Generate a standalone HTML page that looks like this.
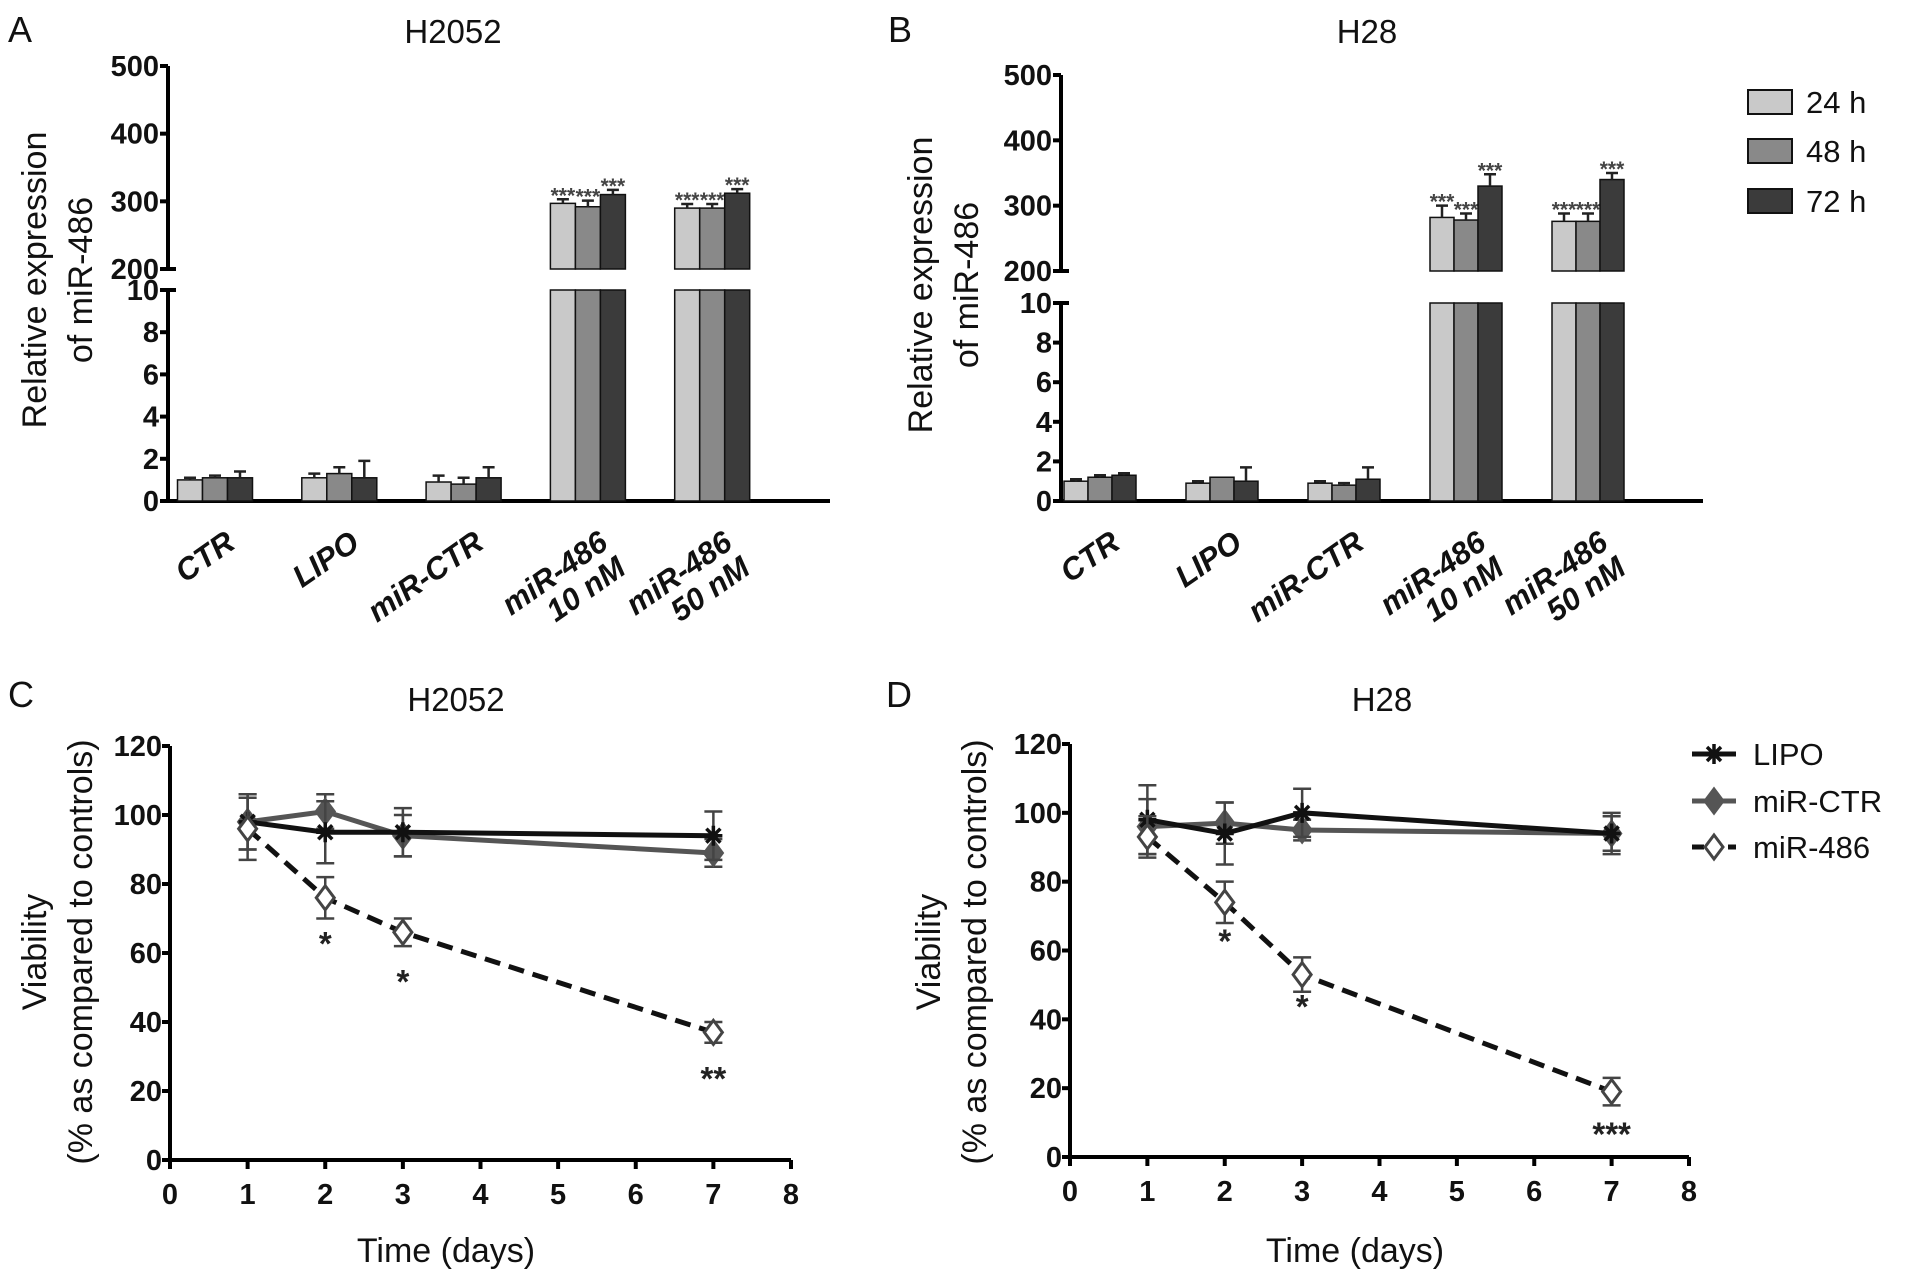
<!DOCTYPE html>
<html><head><meta charset="utf-8"><title>miR-486 expression and viability</title>
<style>
html,body{margin:0;padding:0;background:#fff;}
svg{display:block;font-family:"Liberation Sans",Arial,sans-serif;}
.tick{font-size:29px;font-weight:bold;fill:#111;}
.ttl{font-size:33px;fill:#111;}
.axt{font-size:34px;fill:#111;}
.plab{font-size:36px;fill:#111;}
.ylab{font-size:34px;fill:#111;}
.xcat{font-size:31px;font-weight:bold;font-style:italic;fill:#111;}
.leg{font-size:31px;fill:#111;}
</style></head>
<body>
<svg id="fig" width="1913" height="1280" viewBox="0 0 1913 1280" xmlns="http://www.w3.org/2000/svg">
<g id="root"></g>
</svg>
<script>
// ---- Data: bar panels ----
const barCategories = [["CTR"],["LIPO"],["miR-CTR"],["miR-486","10 nM"],["miR-486","50 nM"]];
const barSeries = ["24 h","48 h","72 h"];
const yTicksLow = [0,2,4,6,8,10];
const yTicksHigh = [200,300,400,500];
// H2052 (A)
const a24 = [1.0,1.1,0.9,297,290];
const a48 = [1.1,1.3,0.8,292,290];
const a72 = [1.1,1.1,1.1,310,312];
const a24err = [0.1,0.2,0.3,6,6];
const a48err = [0.1,0.3,0.3,9,6];
const a72err = [0.3,0.8,0.5,7,6];
// H28 (B)
const b24 = [1.0,0.9,0.9,282,276];
const b48 = [1.2,1.2,0.8,278,276];
const b72 = [1.3,1.0,1.1,330,340];
const b24err = [0.1,0.1,0.1,18,12];
const b48err = [0.1,0.0,0.1,10,12];
const b72err = [0.1,0.7,0.6,18,10];
const barSig = ["","","","***","***"];

// ---- Data: line panels ----
const days = [1,2,3,7];
const xTicks = [0,1,2,3,4,5,6,7,8];
const yTicksV = [0,20,40,60,80,100,120];
const lineSeries = ["LIPO","miR-CTR","miR-486"];
// H2052 (C)
const cLipo = [98,95,95,94];
const cCtr = [98,101,94,89];
const c486 = [96,76,66,37];
const cLipoErr = [8,9,7,7];
const cCtrErr = [8,5,6,4];
const c486Err = [9,6,4,3];
const cSig = ["","*","*","**"];
const cSigVal = [0,64,53,25];
// H28 (D)
const dLipo = [98,94,100,94];
const dCtr = [96,97,95,94];
const d486 = [93,74,53,19];
const dLipoErr = [10,9,7,6];
const dCtrErr = [8,6,3,5];
const d486Err = [6,6,5,4];
const dSig = ["","*","*","***"];
const dSigVal = [0,64,45,8];

const NS="http://www.w3.org/2000/svg";
const root=document.getElementById('root');
function el(tag,attrs,parent,text){const e=document.createElementNS(NS,tag);for(const k in attrs)e.setAttribute(k,attrs[k]);if(text!==undefined)e.textContent=text;(parent||root).appendChild(e);return e;}

function barPanel(cfg){
  const g=el('g',{});
  
  
  const yLow=v=>cfg.y0-v*(cfg.y0-cfg.y10)/10;
  const yHigh=v=>cfg.y200-(v-200)*(cfg.y200-cfg.y500)/300;
  const ax=el('path',{d:`M${cfg.ax} ${cfg.y10-1}V${cfg.y0}M${cfg.ax} ${cfg.y200+1}V${cfg.y500}M${cfg.ax-2} ${cfg.y0}H${cfg.xEnd}`,stroke:'#000','stroke-width':4,fill:'none'},g);
  
  
  yTicksLow.forEach(t=>{
    el('line',{x1:cfg.ax-8,x2:cfg.ax+(t===10?8:0),y1:yLow(t),y2:yLow(t),stroke:'#000','stroke-width':4},g);
    const tx=el('text',{x:cfg.ax-9,y:yLow(t)+10,'text-anchor':'end',class:'tick'},g,t);
    
    
  });
  yTicksHigh.forEach(t=>{
    el('line',{x1:cfg.ax-8,x2:cfg.ax+(t===200?8:0),y1:yHigh(t),y2:yHigh(t),stroke:'#000','stroke-width':4},g);
    const tx=el('text',{x:cfg.ax-9,y:yHigh(t)+10,'text-anchor':'end',class:'tick'},g,t);
    
    
  });
  const colors=['#c9c9c9','#898989','#3b3b3b'];
  const bw=cfg.bw;
  barCategories.forEach((cat,i)=>{
    const cx=cfg.c0+i*cfg.step;
    cfg.vals.forEach((arr,s)=>{
      const v=arr[i],e=cfg.errs[s][i];
      const x=cx-1.5*bw+s*bw;
      if(v<=10){
        const r=el('rect',{x:x,y:yLow(v),width:bw,height:cfg.y0-yLow(v),fill:colors[s],stroke:'#111','stroke-width':1.5},g);
        
        
        if(e>0){el('path',{d:`M${x+bw/2} ${yLow(v)}V${yLow(v+e)}M${x+bw/2-6} ${yLow(v+e)}H${x+bw/2+6}`,stroke:'#222','stroke-width':2.5,fill:'none'},g);}
      } else {
        const r1=el('rect',{x:x,y:cfg.y10,width:bw,height:cfg.y0-cfg.y10,fill:colors[s],stroke:'#111','stroke-width':1.5},g);
        
        
        const r2=el('rect',{x:x,y:yHigh(v),width:bw,height:cfg.y200-yHigh(v),fill:colors[s],stroke:'#111','stroke-width':1.5},g);
        
        
        el('path',{d:`M${x+bw/2} ${yHigh(v)}V${yHigh(v+e)}M${x+bw/2-6} ${yHigh(v+e)}H${x+bw/2+6}`,stroke:'#222','stroke-width':2.5,fill:'none'},g);
        if(barSig[i]){
          const st=el('text',{x:x+bw/2,y:yHigh(v+e)+3,'text-anchor':'middle','font-size':21,'font-weight':'bold',fill:'#444'},g,barSig[i]);
          
          
        }
      }
    });
    const lab=el('text',{class:'xcat','text-anchor':'end',transform:`translate(${cx+22},${cfg.y0+46}) rotate(-35)`},g);
    
    
    cat.forEach((line,k)=>{el('tspan',{x:0,dy:k===0?0:'1.0em'},lab,line);});
  });
  const t=el('text',{x:cfg.titleX,y:43,'text-anchor':'middle',class:'ttl'},g,cfg.title);
  
  
  const p=el('text',{x:cfg.labX,y:42,class:'plab'},g,cfg.letter);
  
  
  const yl=el('text',{class:'ylab','text-anchor':'middle',transform:`translate(${cfg.ylX},${cfg.ylY}) rotate(-90)`},g);
  
  
  el('tspan',{x:0,dy:0},yl,'Relative expression');
  el('tspan',{x:0,dy:'1.35em'},yl,'of miR-486');
}

barPanel({name:'panel-a-h2052',letter:'A',title:'H2052',labX:8,titleX:453,ax:168,y0:501,y10:290,y200:269,y500:66,xEnd:830,c0:215,step:124.3,bw:25,vals:[a24,a48,a72],errs:[a24err,a48err,a72err],ylX:46,ylY:280});
barPanel({name:'panel-b-h28',letter:'B',title:'H28',labX:888,titleX:1367,ax:1061,y0:501,y10:303,y200:271,y500:75,xEnd:1703,c0:1100,step:122,bw:24,vals:[b24,b48,b72],errs:[b24err,b48err,b72err],ylX:932,ylY:285});

// legend B
const legB=el('g',{});


['#c9c9c9','#898989','#3b3b3b'].forEach((c,i)=>{
  const yy=[90,139,189][i];
  el('rect',{x:1748,y:yy,width:44,height:24,fill:c,stroke:'#111','stroke-width':2},legB);
  const tx=el('text',{x:1806,y:yy+23,class:'leg'},legB,barSeries[i]);
  
  
});

function diamond(g,x,y,fill,stroke){return el('path',{d:`M${x} ${y-12}L${x+9} ${y}L${x} ${y+12}L${x-9} ${y}Z`,fill:fill,stroke:stroke,'stroke-width':3},g);}
function starMark(g,x,y){return el('path',{d:`M${x-9} ${y}H${x+9}M${x} ${y-10}V${y+10}M${x-7} ${y-7}L${x+7} ${y+7}M${x+7} ${y-7}L${x-7} ${y+7}`,stroke:'#111','stroke-width':3.5,fill:'none'},g);}

function linePanel(cfg){
  const g=el('g',{});
  
  
  const X=d=>cfg.ax+d*(cfg.x8-cfg.ax)/8;
  const Y=v=>cfg.y0-v*(cfg.y0-cfg.y120)/120;
  const ax=el('path',{d:`M${cfg.ax} ${cfg.y120}V${cfg.y0}H${cfg.x8}`,stroke:'#000','stroke-width':4,fill:'none'},g);
  
  
  yTicksV.forEach(t=>{
    el('line',{x1:cfg.ax-8,x2:cfg.ax,y1:Y(t),y2:Y(t),stroke:'#000','stroke-width':4},g);
    const tx=el('text',{x:cfg.ax-8,y:Y(t)+10,'text-anchor':'end',class:'tick'},g,t);
    
    
  });
  xTicks.forEach(t=>{
    el('line',{x1:X(t),x2:X(t),y1:cfg.y0,y2:cfg.y0+9,stroke:'#000','stroke-width':4},g);
    const tx=el('text',{x:X(t),y:cfg.y0+44,'text-anchor':'middle',class:'tick'},g,t);
    
    
  });
  const series=[{v:cfg.ctr,e:cfg.ctrE,c:'#555',dash:null,m:'d'},{v:cfg.lipo,e:cfg.lipoE,c:'#111',dash:null,m:'s'},{v:cfg.mir,e:cfg.mirE,c:'#111',dash:'16 9',m:'o'}];
  series.forEach((s,si)=>{
    const pts=days.map((d,i)=>`${X(d)},${Y(s.v[i])}`).join(' ');
    const pl=el('polyline',{points:pts,fill:'none',stroke:s.c,'stroke-width':5},g);
    if(s.dash)pl.setAttribute('stroke-dasharray',s.dash);
    
    
    days.forEach((d,i)=>{
      const x=X(d),yt=Y(s.v[i]+s.e[i]),yb=Y(s.v[i]-s.e[i]);
      el('path',{d:`M${x} ${yt}V${yb}M${x-9} ${yt}H${x+9}M${x-9} ${yb}H${x+9}`,stroke:'#444','stroke-width':2.5,fill:'none'},g);
      let mk;
      if(s.m==='d')mk=diamond(g,x,Y(s.v[i]),'#555','#555');
      else if(s.m==='o')mk=diamond(g,x,Y(s.v[i]),'#fff','#444');
      else mk=starMark(g,x,Y(s.v[i]));
      
      
    });
  });
  days.forEach((d,i)=>{
    if(cfg.sig[i]){
      const st=el('text',{x:X(d),y:Y(cfg.sigVal[i])+16,'text-anchor':'middle','font-size':33,'font-weight':'bold',fill:'#222'},g,cfg.sig[i]);
      
      
    }
  });
  const t=el('text',{x:cfg.titleX,y:711,'text-anchor':'middle',class:'ttl'},g,cfg.title);
  
  
  const p=el('text',{x:cfg.labX,y:707,class:'plab'},g,cfg.letter);
  
  
  const xt=el('text',{x:cfg.xtX,y:1262,'text-anchor':'middle',class:'axt'},g,'Time (days)');
  
  
  const yl=el('text',{class:'ylab','text-anchor':'middle',transform:`translate(${cfg.ylX},${952}) rotate(-90)`},g);
  
  
  el('tspan',{x:0,dy:0},yl,'Viability');
  el('tspan',{x:0,dy:'1.35em'},yl,'(% as compared to controls)');
}

linePanel({name:'panel-c-h2052',letter:'C',title:'H2052',labX:8,titleX:456,ax:170,x8:791,y0:1160,y120:746,lipo:cLipo,ctr:cCtr,mir:c486,lipoE:cLipoErr,ctrE:cCtrErr,mirE:c486Err,sig:cSig,sigVal:cSigVal,xtX:446,ylX:46});
linePanel({name:'panel-d-h28',letter:'D',title:'H28',labX:886,titleX:1382,ax:1070,x8:1689,y0:1157,y120:744,lipo:dLipo,ctr:dCtr,mir:d486,lipoE:dLipoErr,ctrE:dCtrErr,mirE:d486Err,sig:dSig,sigVal:dSigVal,xtX:1355,ylX:940});

// legend D
const legD=el('g',{});


[754,801,847].forEach((yy,i)=>{
  const ln=el('line',{x1:1692,x2:1736,y1:yy,y2:yy,stroke:i===1?'#555':'#111','stroke-width':5},legD);
  if(i===2)ln.setAttribute('stroke-dasharray','12 6');
  if(i===0)starMark(legD,1714,yy);
  if(i===1)diamond(legD,1714,yy,'#555','#555');
  if(i===2)diamond(legD,1714,yy,'#fff','#444');
  const tx=el('text',{x:1753,y:yy+11,class:'leg'},legD,lineSeries[i]);
  
  
});
</script>
</body></html>
